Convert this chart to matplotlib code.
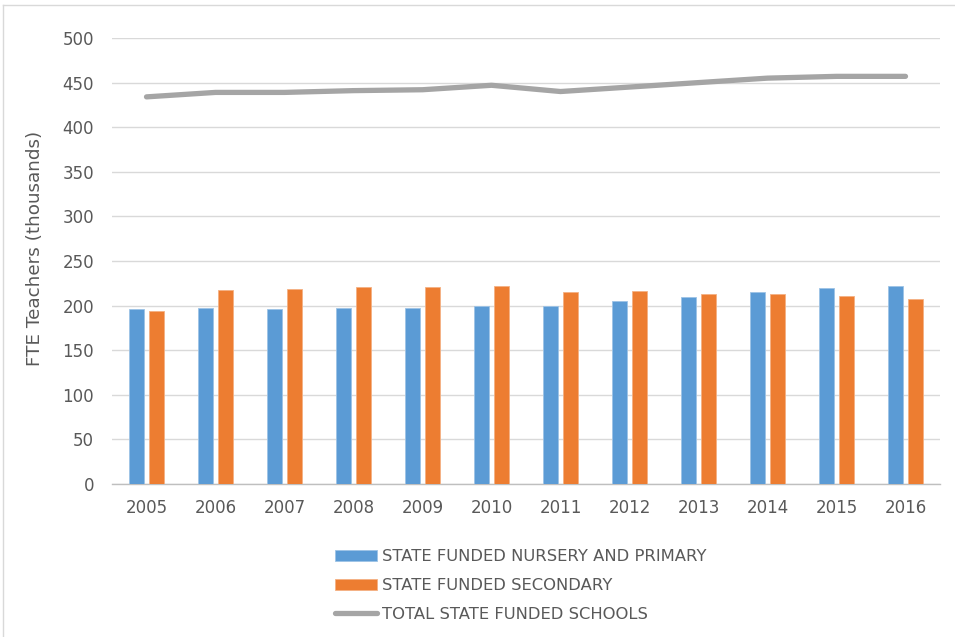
import matplotlib
matplotlib.use("Agg")
import matplotlib.pyplot as plt
import numpy as np
from matplotlib.lines import Line2D
from matplotlib.patches import Patch

years = ["2005", "2006", "2007", "2008", "2009", "2010",
         "2011", "2012", "2013", "2014", "2015", "2016"]
primary = [196, 197, 196, 197, 197, 200, 199, 205, 210, 215, 220, 222]
secondary = [194, 217, 219, 221, 221, 222, 215, 216, 213, 213, 211, 207]
total = [434, 439, 439, 441, 442, 447, 440, 445, 450, 455, 457, 457]
series_names = ["STATE FUNDED NURSERY AND PRIMARY", "STATE FUNDED SECONDARY",
                "TOTAL STATE FUNDED SCHOOLS"]
y_ticks = [0, 50, 100, 150, 200, 250, 300, 350, 400, 450, 500]

BLUE = "#5B9BD5"
ORANGE = "#ED7D31"
GRAY = "#A5A5A5"
TXT = "#595959"

plt.rcParams['font.family'] = ['DejaVu Sans']

fig = plt.figure(figsize=(9.55, 6.37), dpi=100)
ax = fig.add_axes([112/955, 1-484/637, (940-112)/955, (484-38)/637])

x = np.arange(len(years))
w = 0.22
ax.bar(x - 0.145, primary, width=w, color=BLUE, edgecolor="#9DC3E6", linewidth=0.6, zorder=3)
ax.bar(x + 0.14, secondary, width=w, color=ORANGE, edgecolor="#F4B183", linewidth=0.6, zorder=3)
ax.plot(x, total, color=GRAY, linewidth=3.8, solid_capstyle='round', solid_joinstyle='round', zorder=4)

ax.set_xlim(-0.5, len(years) - 0.5)
ax.set_ylim(0, 500)
ax.set_yticks(y_ticks)
ax.set_yticklabels([str(v) for v in y_ticks])
ax.set_xticks(x)
ax.set_xticklabels(years)
ax.grid(axis='y', color="#D9D9D9", linewidth=1.0, zorder=0)
ax.set_axisbelow(True)
for s in ["top", "right", "left"]:
    ax.spines[s].set_visible(False)
ax.spines["bottom"].set_color("#BFBFBF")
ax.spines["bottom"].set_linewidth(1.0)
ax.tick_params(axis='both', length=0, labelsize=12, colors=TXT)
ax.tick_params(axis='y', pad=13)
ax.tick_params(axis='x', pad=11)

fig.text(35/955, 1-248/637, "FTE Teachers (thousands)", rotation=90,
         ha='center', va='center', fontsize=13.2, color=TXT)

handles = [Patch(facecolor=BLUE, edgecolor="#9DC3E6", linewidth=0.6),
           Patch(facecolor=ORANGE, edgecolor="#F4B183", linewidth=0.6),
           Line2D([0], [0], color=GRAY, linewidth=3.8, solid_capstyle='round')]
leg = fig.legend(handles, series_names, loc='upper left',
                 bbox_to_anchor=(335/955, 1-549/637), frameon=False,
                 fontsize=11.8, handlelength=2.55, handletextpad=0.3,
                 labelspacing=0.86, borderpad=0, borderaxespad=0)
for t in leg.get_texts():
    t.set_color(TXT)

# outer chart border
fig.add_artist(Line2D([2.5/955, 2.5/955], [0, 1-4.5/637], transform=fig.transFigure,
                      color="#D9D9D9", linewidth=1.0))
fig.add_artist(Line2D([2.5/955, 1], [1-4.5/637, 1-4.5/637], transform=fig.transFigure,
                      color="#D9D9D9", linewidth=1.0))

fig.savefig("out.png", dpi=100)
